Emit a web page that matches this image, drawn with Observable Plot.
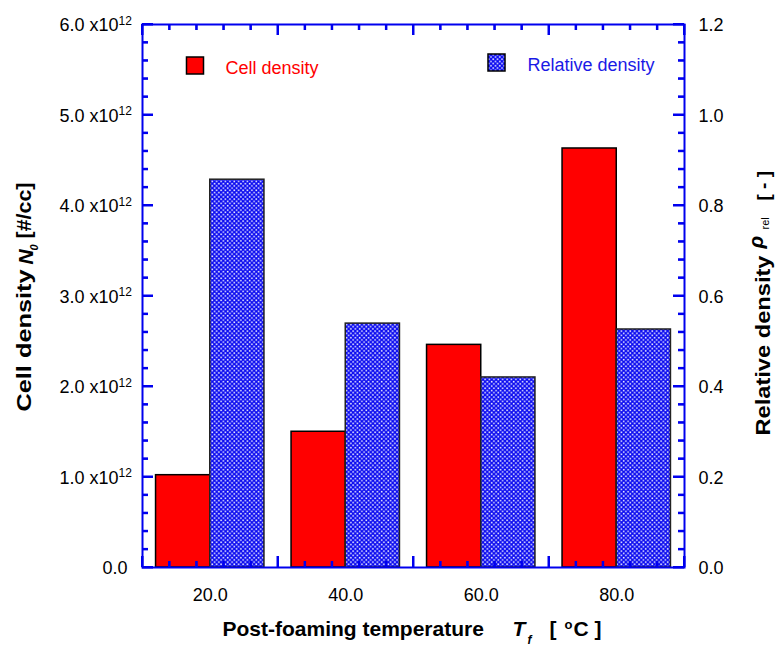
<!DOCTYPE html>
<html>
<head>
<meta charset="utf-8">
<script src="https://cdn.jsdelivr.net/npm/d3@7"></script>
<script src="https://cdn.jsdelivr.net/npm/@observablehq/plot@0.6"></script>
<style>
  html, body { margin: 0; padding: 0; background: #fff; }
</style>
</head>
<body>
<div id="chart"></div>
<script>
// ---- data ----
const temperatures = [20, 40, 60, 80];                    // Post-foaming temperature Tf [°C]
const cellDensity = [1.02e12, 1.50e12, 2.46e12, 4.63e12]; // N0 [#/cc]
const relativeDensity = [0.857, 0.539, 0.42, 0.526];      // rho_rel [-]
const seriesNames = ["Cell density", "Relative density"];
const xTickLabels = ["20.0", "40.0", "60.0", "80.0"];
const leftTickValues = [0, 1e12, 2e12, 3e12, 4e12, 5e12, 6e12];
const leftTickLabels = ["0.0", "1.0", "2.0", "3.0", "4.0", "5.0", "6.0"];
const rightTickValues = [0, 0.2, 0.4, 0.6, 0.8, 1.0, 1.2];
const rightTickLabels = ["0.0", "0.2", "0.4", "0.6", "0.8", "1.0", "1.2"];

// ---- layout / style ----
const W = 775, H = 645;
const mL = 142, mR = 91, mT = 24, mB = 78;
const plotW = W - mL - mR, plotH = H - mT - mB;
const yMax = 6e12, rMax = 1.2, k = yMax / rMax; // right axis mapped onto left scale
const barW = 8;
const axisColor = "#0000ee";
const font = "'Liberation Sans', Arial, Helvetica, sans-serif";

const rows = temperatures.map((T, i) => ({T, N: cellDensity[i], rho: relativeDensity[i]}));

const xMajor = [10, 30, 50, 70, 90];
const xMinor = [14, 18, 22, 26, 34, 38, 42, 46, 54, 58, 62, 66, 74, 78, 82, 86];
const yMajor = leftTickValues;
const yMinor = d3.range(1, 30).filter(i => i % 5 !== 0).map(i => i * 0.2e12);

const tk = {stroke: axisColor, strokeWidth: 2};
function xTicks(values, len) {
  return [
    Plot.ruleX(values, {x: d => d, insetTop: plotH - len, ...tk}),
    Plot.ruleX(values, {x: d => d, insetBottom: plotH - len, ...tk})
  ];
}
function yTicks(values, len) {
  return [
    Plot.ruleY(values, {y: d => d, insetRight: plotW - len, ...tk}),
    Plot.ruleY(values, {y: d => d, insetLeft: plotW - len, ...tk})
  ];
}

// absolute-position label helper (pixel layout, relative to frame top-left)
function label(str, x, y, opts = {}) {
  return Plot.text([str], {text: d => d, frameAnchor: "top-left", dx: x - mL, dy: y - mT,
    lineAnchor: "bottom", textAnchor: "start", fontSize: 21, fontWeight: "bold", fill: "black", ...opts});
}

const defs = () => {
  const d = d3.create("svg:defs");
  const s = 4.4;
  const p = d.append("pattern").attr("id", "xhatch").attr("patternUnits", "userSpaceOnUse")
    .attr("width", s).attr("height", s);
  p.append("rect").attr("width", s).attr("height", s).attr("fill", "#0a0af0");
  p.append("rect").attr("x", 0.3).attr("y", 0.3).attr("width", 1.6).attr("height", 1.6).attr("fill", "#e8e8ff");
  p.append("rect").attr("x", 2.5).attr("y", 2.5).attr("width", 1.6).attr("height", 1.6).attr("fill", "#e8e8ff");
  return d.node();
};

const stretch = {"Cell density": 142, "[#/cc]": 56, "Relative density": 180};

const chart = Plot.plot({
  width: W, height: H,
  marginLeft: mL, marginRight: mR, marginTop: mT, marginBottom: mB,
  style: {fontFamily: font, fontSize: "18px", background: "white"},
  x: {domain: [10, 90], axis: null},
  y: {domain: [0, yMax], axis: null},
  marks: [
    defs,
    // bars
    Plot.rectY(rows, {x1: d => d.T - barW, x2: d => d.T, y: "N", fill: "#ff0000", stroke: "black", strokeWidth: 1.5}),
    Plot.rectY(rows, {x1: d => d.T, x2: d => d.T + barW, y: d => d.rho * k, fill: "url(#xhatch)", stroke: "#222", strokeWidth: 1.5}),
    // frame
    Plot.frame({stroke: axisColor, strokeWidth: 2}),
    // bottom tick labels
    Plot.text(temperatures, {x: d => d, text: (d, i) => xTickLabels[i], frameAnchor: "bottom", dy: 33,
      lineAnchor: "bottom", textAnchor: "middle", fontSize: 18, fill: "black"}),
    // left tick labels
    Plot.text(leftTickValues.map((v, i) => ({v, t: leftTickLabels[i]})).filter(d => d.v !== 0),
      {y: "v", text: d => d.t + " x10", frameAnchor: "left", dx: -24, textAnchor: "end",
       lineAnchor: "bottom", dy: 6.5, fontSize: 18, fill: "black"}),
    Plot.text(leftTickValues.map((v, i) => ({v, t: leftTickLabels[i]})).filter(d => d.v === 0),
      {y: "v", text: "t", frameAnchor: "left", dx: -15, textAnchor: "end",
       lineAnchor: "bottom", dy: 6.5, fontSize: 18, fill: "black"}),
    Plot.text(leftTickValues.filter(d => d !== 0), {y: d => d, text: () => "12",
      frameAnchor: "left", dx: -24, textAnchor: "start", lineAnchor: "bottom", dy: 0, fontSize: 12, fill: "black"}),
    // right tick labels
    Plot.text(rightTickValues, {y: d => d * k, text: (d, i) => rightTickLabels[i],
      frameAnchor: "right", dx: 14, textAnchor: "start", lineAnchor: "bottom", dy: 6.5, fontSize: 18, fill: "black"}),
    // legend
    Plot.dot([seriesNames[0]], {frameAnchor: "top-left", dx: 194.5 - mL, dy: 65 - mT, symbol: "square", r: 9.6,
      fill: "#ff0000", stroke: "black", strokeWidth: 1.5}),
    label(seriesNames[0], 225, 73, {fontSize: 18, fontWeight: "normal", fill: "#ff0000"}),
    Plot.dot([seriesNames[1]], {frameAnchor: "top-left", dx: 496 - mL, dy: 62 - mT, symbol: "square", r: 9.6,
      fill: "url(#xhatch)", stroke: "black", strokeWidth: 1.5}),
    label(seriesNames[1], 527, 70, {fontSize: 18, fontWeight: "normal", fill: "#1a1ae6"}),
    // bottom title
    label("Post-foaming temperature", 222, 635),
    label("T", 512, 635, {fontStyle: "italic"}),
    label("f", 527, 643, {fontStyle: "italic", fontSize: 12}),
    label("[", 549, 635),
    label("o", 564, 628, {fontSize: 13}),
    label("C ]", 573, 635),
    // left title (rotated)
    label("Cell density", 30, 411, {rotate: -90}),
    label("N", 32, 264, {rotate: -90, fontStyle: "italic"}),
    label("0", 37, 250, {rotate: -90, fontStyle: "italic", fontSize: 11}),
    label("[#/cc]", 30, 238, {rotate: -90}),
    // right title (rotated)
    label("Relative density", 769, 435, {rotate: -90}),
    label("ρ", 762, 248, {rotate: -90, fontStyle: "italic"}),
    label("rel", 768, 229, {rotate: -90, fontSize: 11, fontWeight: "normal"}),
    label("[ - ]", 769, 200, {rotate: -90, fontSize: 19}),
    // ticks (inward), drawn last so they sit on top of everything
    ...xTicks(xMajor, 11),
    ...xTicks(xMinor, 6),
    ...yTicks(yMajor, 11),
    ...yTicks(yMinor, 6)
  ]
});
// stretch the rotated axis titles to the lengths seen in the reference
d3.select(chart).selectAll("text").each(function() {
  const t = this.textContent;
  const tr = this.getAttribute("transform") || "";
  if (stretch[t] && tr.includes("rotate")) {
    d3.select(this).attr("textLength", stretch[t]).attr("lengthAdjust", "spacingAndGlyphs");
  }
});
// inward ticks positioned through the plot's own scales (overlay on top)
const scX = chart.scale("x"), scY = chart.scale("y");
const tickG = d3.select(chart).append("g").attr("stroke", axisColor).attr("stroke-width", 2);
const frameL = mL, frameR = W - mR, frameT = mT, frameB = H - mB;
[[xMajor, 11], [xMinor, 6]].forEach(([vals, len]) => vals.forEach(v => {
  const px = scX.apply(v);
  tickG.append("line").attr("x1", px).attr("x2", px).attr("y1", frameB).attr("y2", frameB - len);
  tickG.append("line").attr("x1", px).attr("x2", px).attr("y1", frameT).attr("y2", frameT + len);
}));
[[yMajor, 11], [yMinor, 6]].forEach(([vals, len]) => vals.forEach(v => {
  const py = scY.apply(v);
  tickG.append("line").attr("y1", py).attr("y2", py).attr("x1", frameL).attr("x2", frameL + len);
  tickG.append("line").attr("y1", py).attr("y2", py).attr("x1", frameR).attr("x2", frameR - len);
}));
document.getElementById("chart").appendChild(chart);
</script>
</body>
</html>
